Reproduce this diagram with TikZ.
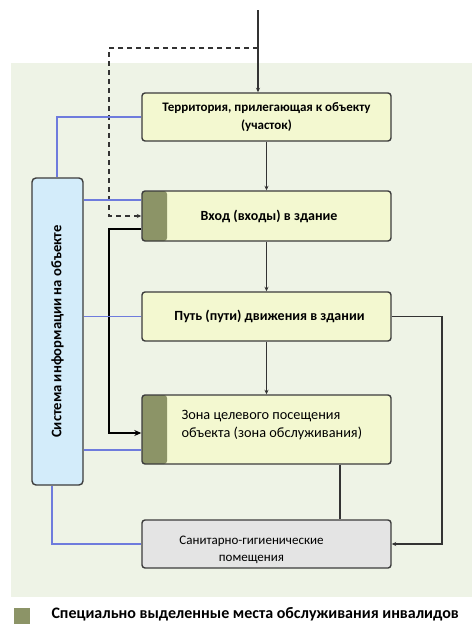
\documentclass[tikz,border=0pt]{standalone}
\usepackage{fontspec}
\setmainfont{Carlito}
\usetikzlibrary{arrows.meta}

\definecolor{panel}{HTML}{EEF3E6}
\definecolor{zonefill}{HTML}{F3F8D0}
\definecolor{infofill}{HTML}{D3ECFA}
\definecolor{sanfill}{HTML}{E4E4E4}
\definecolor{stripgreen}{HTML}{8C9467}
\definecolor{boxline}{HTML}{3C3C3C}
\definecolor{infoblue}{HTML}{6E7BDD}
\definecolor{flowgray}{HTML}{333333}

\begin{document}
\begin{tikzpicture}[x=1pt, y=-1pt,
    every node/.style={font=\fontsize{14}{18}\selectfont},
    zone/.style={draw=boxline, line width=1.4pt, rounded corners=3pt, fill=zonefill,
        minimum width=249pt, inner sep=0pt, align=center},
    served/.style={zone, path picture={\fill[stripgreen] (path picture bounding box.north west)
        rectangle ([xshift=25pt]path picture bounding box.south west);}},
    flow/.style={-{Stealth[length=4.5pt, width=4pt]}, line width=1.4pt, draw=flowgray},
    infoline/.style={line width=1.3pt, draw=infoblue}
]
\useasboundingbox (0,0) rectangle (472,625);
\fill[panel] (11,63) rectangle (472,597);

\node[zone, minimum height=48pt, font=\fontsize{13}{18}\selectfont\bfseries] (terr) at (266.5,117)
    {Территория, прилегающая к объекту\\(участок)};
\node[served, minimum height=50pt, font=\fontsize{14}{18}\selectfont\bfseries] (entr) at (266.5,216)
    {\hspace*{5pt}Вход (входы) в здание};
\node[zone, minimum height=49pt, font=\fontsize{14}{18}\selectfont\bfseries] (path) at (266.5,316.5)
    {\hspace*{6pt}Путь (пути) движения в здании};
\node[served, minimum height=69pt, align=left] (goal) at (266.5,429.5)
    {\hspace*{20pt}\raisebox{1pt}[0pt][0pt]{\parbox{190pt}{\fontsize{14.3}{18}\selectfont Зона целевого посещения\\объекта (зона обслуживания)}}};
\node[zone, fill=sanfill, minimum height=48pt] (san) at (266.5,544)
    {\hspace*{-30pt}\raisebox{-9.5pt}[0pt][0pt]{\parbox{150pt}{\centering\fontsize{13}{17}\selectfont Санитарно-гигиенические\\помещения}}};
\node[draw=boxline, line width=1.4pt, rounded corners=4pt, fill=infofill, minimum width=51pt,
    minimum height=307pt, inner sep=0pt] (info) at (57.5,331.5) {};
\node[rotate=90, font=\fontsize{14.6}{18}\selectfont\bfseries] (infotext) at (info.center) {Система информации на объекте};

\coordinate (in) at (258,10);
\coordinate (d1) at (258,48);
\coordinate (d2) at (109,48);
\coordinate (d3) at (109,216);
\draw[flow] (in) -- (in |- terr.north);
\draw[flow, dash pattern=on 5pt off 4pt] (d1) -- (d2) -- (d3) -- (entr.west);
\draw[flow] (terr) -- (entr);
\draw[flow] (entr) -- (path);
\draw[flow] (path) -- (goal);
\draw[line width=1.5pt, draw=flowgray] ([xshift=73.5pt]goal.south) -- ([xshift=73.5pt]goal.south |- san.north);
\coordinate (r1) at (442,316.5);
\draw[flow] (path.east) -- (r1) |- (san.east);

\coordinate (b1) at ([yshift=-13pt]entr.west);
\coordinate (b2) at (109,229);
\coordinate (b3) at ([yshift=-3.5pt]goal.west);
\draw[-{Stealth[length=7pt, width=6pt]}, line width=2.2pt, draw=black] (b1) -- (b2) |- (b3);

\draw[infoline] ([xshift=-0.5pt]info.north) |- (terr.west);
\coordinate (e1) at ([yshift=16pt]entr.west);
\draw[infoline] (e1) -- (e1 -| info.east);
\draw[infoline] (path.west) -- (path.west -| info.east);
\coordinate (e4) at ([yshift=-20.5pt]goal.west);
\draw[infoline] (e4) -- (e4 -| info.east);
\draw[infoline] ([xshift=-5.5pt]info.south) |- (san.west);

\node[fill=stripgreen, minimum size=16pt, inner sep=0pt] (key) at (22,616) {};
\node[anchor=west, font=\fontsize{16}{18}\selectfont\bfseries] (keytext) at (48,614)
    {Специально выделенные места обслуживания инвалидов};
\end{tikzpicture}
\end{document}
